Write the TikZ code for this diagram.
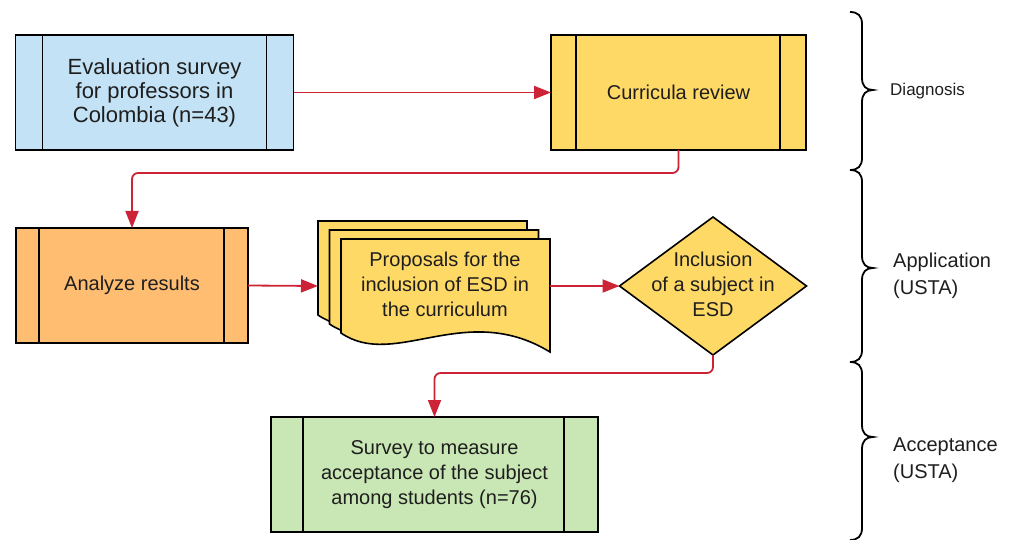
\documentclass[tikz,border=0pt]{standalone}
\usepackage{fontspec}
\setmainfont{Liberation Sans}
\usetikzlibrary{arrows.meta,shapes.geometric}
\definecolor{cblue}{HTML}{C4E2F5}
\definecolor{cyellow}{HTML}{FFD966}
\definecolor{corange}{HTML}{FFBD72}
\definecolor{cgreen}{HTML}{C9E6B5}
\definecolor{cred}{HTML}{CC2336}
\definecolor{ctext}{HTML}{1E1E1E}
\tikzset{
  procbox/.style={draw=black, line width=1.6pt, rectangle, outer sep=0pt, inner sep=0pt, align=center, text=ctext, font=\fontsize{20}{25}\selectfont},
  conn/.style={draw=cred, line width=1.8pt, -{Triangle[length=17pt,width=13pt]}, rounded corners=6pt},
  docstyle/.style={draw=black, line width=1.6pt, fill=cyellow},
  txt/.style={align=center, text=ctext, font=\fontsize{20}{25}\selectfont, inner sep=0pt},
  bracestyle/.style={draw=black, line width=1.8pt},
  phase/.style={align=left, anchor=west, text=ctext, inner sep=0pt},
  innerline/.style={line width=1.6pt}
}
\begin{document}
\begin{tikzpicture}[x=1pt,y=-1pt]
\useasboundingbox (0,0) rectangle (1009,540);
% process boxes
\node[procbox, fill=cblue, minimum width=278pt, minimum height=115pt, font=\fontsize{22}{24}\selectfont] (eval) at (154.5,92.5) {Evaluation survey\\for professors in\\Colombia (n=43)};
\node[procbox, fill=cyellow, minimum width=255pt, minimum height=115pt] (cur) at (678.5,92.5) {Curricula review};
\node[procbox, fill=corange, minimum width=232pt, minimum height=115pt] (ana) at (132,285.5) {Analyze results};
\node[procbox, fill=cgreen, minimum width=327pt, minimum height=115pt] (surv) at (434.5,474.5) {Survey to measure\\acceptance of the subject\\among students (n=76)};
% inner vertical lines
\draw[innerline] ([xshift=27pt]eval.north west) -- ([xshift=27pt]eval.south west);
\draw[innerline] ([xshift=-27pt]eval.north east) -- ([xshift=-27pt]eval.south east);
\draw[innerline] ([xshift=25pt]cur.north west) -- ([xshift=25pt]cur.south west);
\draw[innerline] ([xshift=-26pt]cur.north east) -- ([xshift=-26pt]cur.south east);
\draw[innerline] ([xshift=23pt]ana.north west) -- ([xshift=23pt]ana.south west);
\draw[innerline] ([xshift=-24pt]ana.north east) -- ([xshift=-24pt]ana.south east);
\draw[innerline] ([xshift=32pt]surv.north west) -- ([xshift=32pt]surv.south west);
\draw[innerline] ([xshift=-34pt]surv.north east) -- ([xshift=-34pt]surv.south east);
% document stack
\foreach \dx/\dy in {-23/-18,-11.5/-9,0/0}{
  \filldraw[docstyle, shift={(\dx,\dy)}] (341,239) -- (550,239) -- (550,352)
    .. controls (465,300) and (395,370) .. (341,333) -- cycle;
}
\node[txt] (prop) at (445,284) {Proposals for the\\inclusion of ESD in\\the curriculum};
\coordinate (docin) at (318,286);
\coordinate (docout) at (550,286);
% decision
\node[diamond, draw=black, line width=1.6pt, fill=cyellow, minimum width=187pt, minimum height=138pt, inner sep=0pt, outer sep=0pt] (dia) at (713,286) {};
\node[txt] (diatext) at (713,284) {Inclusion\\of a subject in\\ESD};
% connectors
\draw[conn] (eval.east) -- (cur.west);
\draw[conn] (cur.south) -- ++(0,23) -| (ana.north);
\draw[conn] (ana.east) -- (docin);
\draw[conn] (docout) -- (dia.west);
\draw[conn] (dia.south) -- ++(0,18) -| (surv.north);
% braces
\draw[bracestyle] (850,12) .. controls (858,12) and (862,16) .. (862,24) -- (862,78)
  .. controls (862,86) and (866,90) .. (873,90) .. controls (866,90) and (862,94) .. (862,102)
  -- (862,158) .. controls (862,166) and (858,170) .. (850,170);
\draw[bracestyle] (850,170) .. controls (858,170) and (862,174) .. (862,182) -- (862,256)
  .. controls (862,264) and (866,268) .. (873,268) .. controls (866,268) and (862,272) .. (862,280)
  -- (862,350) .. controls (862,358) and (858,362) .. (850,362);
\draw[bracestyle] (850,362) .. controls (858,362) and (862,366) .. (862,374) -- (862,425)
  .. controls (862,433) and (866,437) .. (873,437) .. controls (866,437) and (862,441) .. (862,449)
  -- (862,528) .. controls (862,536) and (858,540) .. (850,540);
% phase labels
\node[phase, font=\fontsize{17}{20}\selectfont] (diag) at (890,91) {Diagnosis};
\node[phase, font=\fontsize{20}{27}\selectfont] (appl) at (893,276) {Application\\(USTA)};
\node[phase, font=\fontsize{20}{27}\selectfont] (acc) at (893,460) {Acceptance\\(USTA)};
\end{tikzpicture}
\end{document}
